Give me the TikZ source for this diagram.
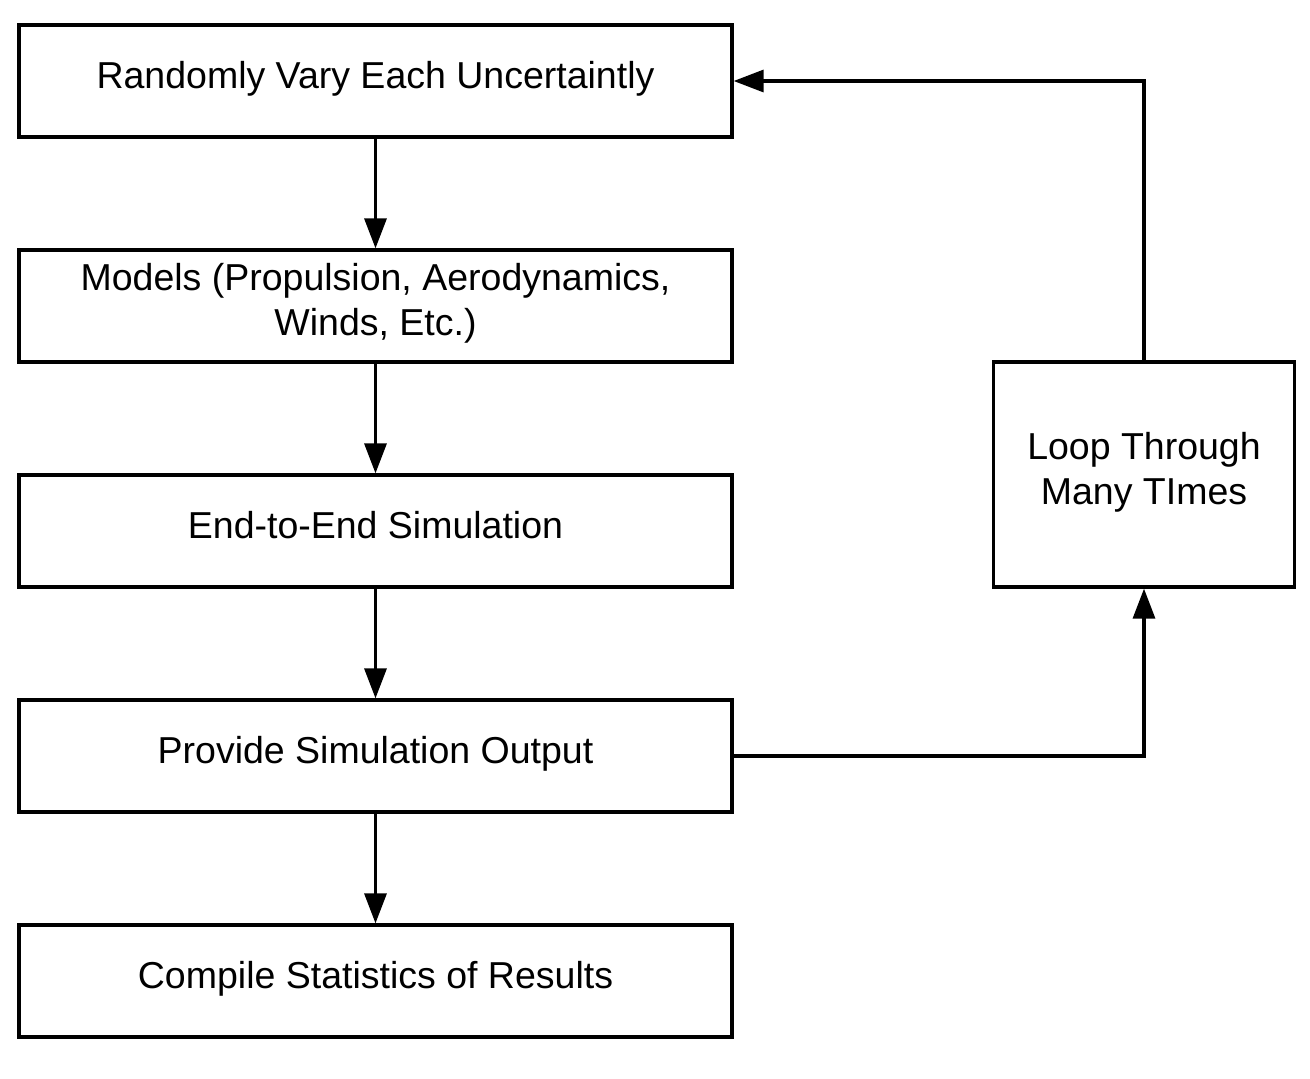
\documentclass[tikz,border=0pt]{standalone}
\usepackage{fontspec}
\setmainfont{Liberation Sans}
\usetikzlibrary{arrows.meta}
\begin{document}
\begin{tikzpicture}[x=1pt,y=-1pt,
  box/.style={draw,line width=3.3pt,minimum width=713pt,minimum height=112pt,inner sep=0pt,align=center,text height=27pt,text depth=12.4pt,font=\fontsize{37.5}{45}\selectfont},
  twoline/.style={text height=72pt},
  conn/.style={line width=3.3pt,-{Triangle[length=30pt,width=22pt]}}]
\useasboundingbox (0,0) rectangle (1310,1079);
\node[box] (b1) at (375.5,81) {Randomly Vary Each Uncertaintly};
\node[box,twoline] (b2) at (375.5,306) {Models (Propulsion, Aerodynamics,\\Winds, Etc.)};
\node[box] (b3) at (375.5,531) {End-to-End Simulation};
\node[box] (b4) at (375.5,756) {Provide Simulation Output};
\node[box] (b5) at (375.5,981) {Compile Statistics of Results};
\node[box,twoline,minimum width=301pt,minimum height=225pt] (lp) at (1144,474.5) {Loop Through\\Many TImes};
\draw[conn] (b1) -- (b2);
\draw[conn] (b2) -- (b3);
\draw[conn] (b3) -- (b4);
\draw[conn] (b4) -- (b5);
\draw[conn] (b4.east) -| (lp.south);
\draw[conn] (lp.north) |- (b1.east);
\end{tikzpicture}
\end{document}
